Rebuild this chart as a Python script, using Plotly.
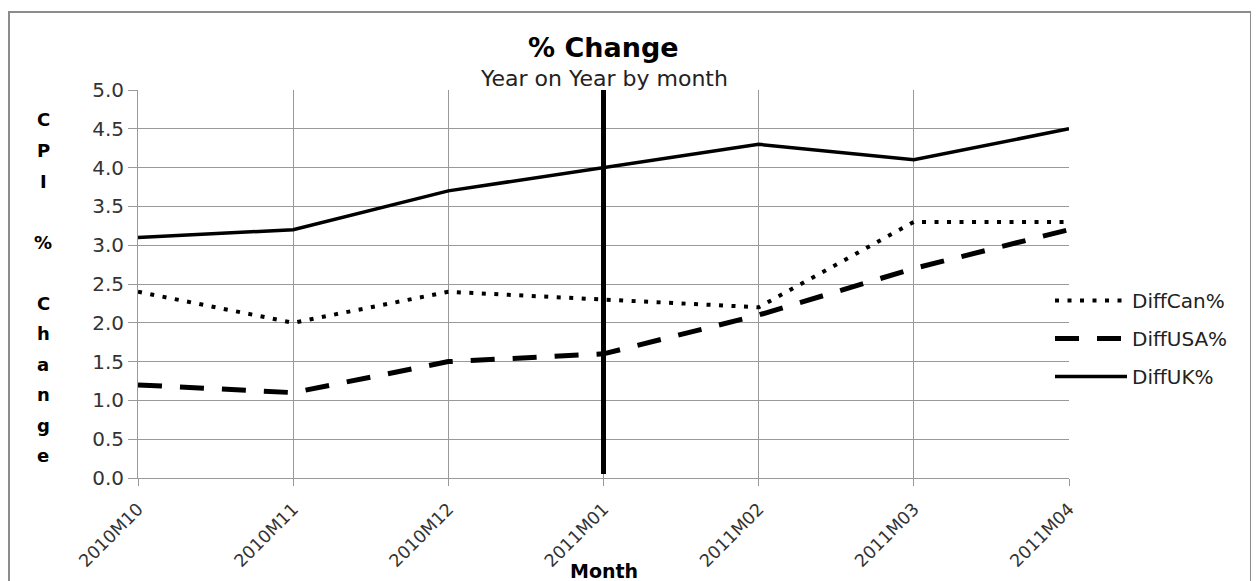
import plotly.graph_objects as go

months = ["2010M10", "2010M11", "2010M12", "2011M01", "2011M02", "2011M03", "2011M04"]
diff_can = [2.4, 2.0, 2.4, 2.3, 2.2, 3.3, 3.3]
diff_usa = [1.2, 1.1, 1.5, 1.6, 2.1, 2.7, 3.2]
diff_uk = [3.1, 3.2, 3.7, 4.0, 4.3, 4.1, 4.5]
divider_month = "2011M01"
divider_y = [0.05, 5.0]
y_title_letters = ["C", "P", "I", "", "%", "", "C", "h", "a", "n", "g", "e"]

# page has an 8px body margin; figure positioned at (8, 8)
OFF = 8
W, H = 1259 - OFF, 581 - OFF
L, T = 138 - OFF, 90 - OFF
pw, ph = 931, 388
R = W - L - pw
B = H - T - ph

def px_x(px):
    return (px - OFF - L) / pw

def px_y(py):
    return (T + ph - (py - OFF)) / ph

FONT = "DejaVu Sans"
fig = go.Figure()
fig.add_trace(go.Scatter(x=months, y=diff_can, name="DiffCan%", mode="lines",
                         legendgroup="a",
                         line=dict(color="black", width=4, dash="4px,8.5px")))
fig.add_trace(go.Scatter(x=months, y=diff_usa, name="DiffUSA%", mode="lines",
                         legendgroup="b",
                         line=dict(color="black", width=5, dash="24px,18px")))
fig.add_trace(go.Scatter(x=months, y=diff_uk, name="DiffUK%", mode="lines",
                         legendgroup="c",
                         line=dict(color="black", width=3.5)))
fig.add_trace(go.Scatter(x=[divider_month, divider_month], y=divider_y, mode="lines",
                         showlegend=False, hoverinfo="skip",
                         line=dict(color="black", width=5)))

annotations = [
    dict(text="<b>% Change</b>", x=0.5, y=px_y(48), xref="paper", yref="paper",
         showarrow=False, xanchor="center", yanchor="middle",
         font=dict(family=FONT, size=27, color="black")),
    dict(text="Year on Year by month", x=0.5, y=px_y(78), xref="paper", yref="paper",
         showarrow=False, xanchor="center", yanchor="middle",
         font=dict(family=FONT, size=22, color="#222")),
    dict(text="<b>Month</b>", x=0.5, y=px_y(571), xref="paper", yref="paper",
         showarrow=False, xanchor="center", yanchor="middle",
         font=dict(family=FONT, size=19, color="black")),
]
for i, ch in enumerate(y_title_letters):
    if ch:
        annotations.append(dict(text="<b>%s</b>" % ch, x=px_x(43), y=px_y(120 + 30.5 * i),
                                xref="paper", yref="paper", showarrow=False,
                                xanchor="center", yanchor="middle",
                                font=dict(family=FONT, size=18, color="black")))

fig.update_layout(
    width=W, height=H,
    margin=dict(l=L, r=R, t=T, b=B, pad=0, autoexpand=False),
    paper_bgcolor="white", plot_bgcolor="white",
    showlegend=True,
    legend=dict(x=px_x(1050), y=px_y(281), xanchor="left", yanchor="top",
                font=dict(family=FONT, size=20, color="#222"),
                traceorder="grouped", tracegroupgap=9, itemwidth=72,
                bgcolor="rgba(0,0,0,0)"),
    annotations=annotations,
    shapes=[dict(type="rect", xref="paper", yref="paper",
                 x0=px_x(9), x1=px_x(1251), y0=px_y(600), y1=px_y(12),
                 line=dict(color="#8c8c8c", width=2), fillcolor="rgba(0,0,0,0)",
                 layer="below")],
    xaxis=dict(type="category", range=[0, 6], showgrid=True, gridcolor="#999",
               gridwidth=1, showline=True, linecolor="#999", linewidth=1,
               ticks="outside", ticklen=7, tickcolor="#999", tickangle=-45,
               ticklabelstandoff=6, automargin=False,
               tickfont=dict(family=FONT, size=17.5, color="#333"), zeroline=False),
    yaxis=dict(range=[0, 5], dtick=0.5, tickformat=".1f", showgrid=True,
               gridcolor="#999", gridwidth=1, showline=True, linecolor="#999",
               linewidth=1, ticks="outside", ticklen=9, tickcolor="#999",
               automargin=False,
               tickfont=dict(family=FONT, size=20, color="#333"), zeroline=False),
)

fig.write_html("out.html")
